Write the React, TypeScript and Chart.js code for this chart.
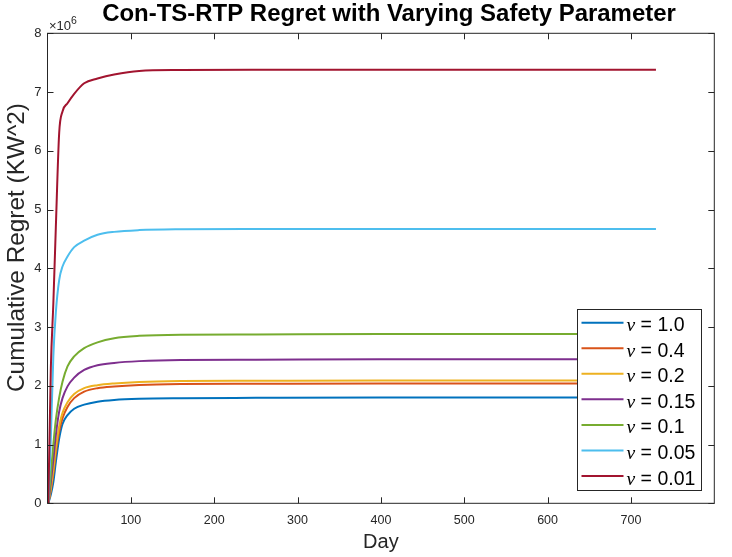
import React, { useEffect, useRef } from "react";
import { Chart, registerables } from "chart.js";
import type { Plugin } from "chart.js";

Chart.register(...registerables);

const DAYS = [1, 4, 7, 10, 14, 18, 24, 32, 44, 60, 80, 110, 160, 250, 400, 550, 730];

// cumulative regret, in units of 1e6 KW^2
const REGRET_NU_1_0 = [0, 0.15, 0.36, 0.7, 1.1, 1.35, 1.5, 1.61, 1.68, 1.73, 1.76, 1.78, 1.79, 1.795, 1.8, 1.8, 1.8];
const REGRET_NU_0_4 = [0, 0.22, 0.5, 0.85, 1.22, 1.45, 1.64, 1.79, 1.9, 1.96, 1.99, 2.015, 2.03, 2.035, 2.04, 2.04, 2.04];
const REGRET_NU_0_2 = [0, 0.25, 0.56, 0.93, 1.31, 1.54, 1.72, 1.86, 1.96, 2.01, 2.04, 2.065, 2.08, 2.085, 2.09, 2.09, 2.09];
const REGRET_NU_0_15 = [0, 0.36, 0.74, 1.16, 1.56, 1.79, 1.99, 2.14, 2.27, 2.35, 2.39, 2.42, 2.44, 2.445, 2.45, 2.45, 2.45];
const REGRET_NU_0_1 = [0, 0.5, 1.0, 1.42, 1.8, 2.07, 2.33, 2.5, 2.64, 2.74, 2.81, 2.85, 2.87, 2.875, 2.88, 2.88, 2.88];
const REGRET_NU_0_05 = [0, 1.1, 2.5, 3.25, 3.8, 4.03, 4.2, 4.36, 4.47, 4.57, 4.62, 4.65, 4.665, 4.67, 4.67, 4.67, 4.67];
const REGRET_NU_0_01 = [0, 2.3, 3.4, 4.7, 6.3, 6.67, 6.81, 6.97, 7.15, 7.23, 7.3, 7.36, 7.375, 7.38, 7.38, 7.38, 7.38];

const NU_LABELS = ["1.0", "0.4", "0.2", "0.15", "0.1", "0.05", "0.01"];
const SERIES = [REGRET_NU_1_0, REGRET_NU_0_4, REGRET_NU_0_2, REGRET_NU_0_15, REGRET_NU_0_1, REGRET_NU_0_05, REGRET_NU_0_01];
const COLORS = ["#0072BD", "#D95319", "#EDB120", "#7E2F8E", "#77AC30", "#4DBEEE", "#A2142F"];

const X_TICKS = [100, 200, 300, 400, 500, 600, 700];
const Y_TICKS = [0, 1, 2, 3, 4, 5, 6, 7, 8];

const TITLE = "Con-TS-RTP Regret with Varying Safety Parameter";
const X_LABEL = "Day";
const Y_LABEL = "Cumulative Regret (KW^2)";

const SANS = '"Liberation Sans", Arial, sans-serif';
const SERIF = '"Liberation Serif", "DejaVu Serif", serif';
const INK = "#262626";

// font size that makes text span a given width
const fitSize = (ctx: CanvasRenderingContext2D, text: string, weight: string, width: number) => {
  ctx.font = `${weight} 20px ${SANS}`;
  return (20 * width) / ctx.measureText(text).width;
};

const decorations: Plugin<"line"> = {
  id: "matlabDecorations",
  afterDraw: (chart) => {
    const ctx = chart.ctx;
    const { left, right, top, bottom } = chart.chartArea;
    const xs = chart.scales.x;
    const ys = chart.scales.y;
    ctx.save();

    // axes box and inward ticks
    ctx.strokeStyle = INK;
    ctx.lineWidth = 1;
    ctx.strokeRect(left, top, right - left, bottom - top);
    const tl = 6;
    ctx.beginPath();
    X_TICKS.forEach((v) => {
      const px = Math.round(xs.getPixelForValue(v)) + 0.5;
      ctx.moveTo(px, bottom);
      ctx.lineTo(px, bottom - tl);
      ctx.moveTo(px, top);
      ctx.lineTo(px, top + tl);
    });
    Y_TICKS.forEach((v) => {
      const py = Math.round(ys.getPixelForValue(v)) + 0.5;
      ctx.moveTo(left, py);
      ctx.lineTo(left + tl, py);
      ctx.moveTo(right, py);
      ctx.lineTo(right - tl, py);
    });
    ctx.stroke();

    // exponent
    ctx.fillStyle = INK;
    ctx.textAlign = "left";
    ctx.textBaseline = "alphabetic";
    ctx.font = `13px ${SANS}`;
    ctx.fillText("\u00d710", left + 1.5, top - 3);
    const w = ctx.measureText("\u00d710").width;
    ctx.font = `10.5px ${SANS}`;
    ctx.fillText("6", left + 1.5 + w, top - 9.5);

    // title
    ctx.fillStyle = "#000";
    ctx.textAlign = "center";
    const ts = fitSize(ctx, TITLE, "bold", 574);
    ctx.font = `bold ${ts}px ${SANS}`;
    ctx.fillText(TITLE, 389, 21);

    // x label
    ctx.fillStyle = INK;
    ctx.font = `20px ${SANS}`;
    ctx.fillText(X_LABEL, (left + right) / 2, 548);

    // y label
    const ls = fitSize(ctx, Y_LABEL, "normal", 289);
    ctx.save();
    ctx.translate(23.5, 247.5);
    ctx.rotate(-Math.PI / 2);
    ctx.font = `${ls}px ${SANS}`;
    ctx.fillText(Y_LABEL, 0, 0);
    ctx.restore();

    // legend
    const bx = 577.5;
    const by = 309.5;
    const bw = 124;
    const bh = 181;
    ctx.fillStyle = "#fff";
    ctx.fillRect(bx, by, bw, bh);
    ctx.strokeStyle = INK;
    ctx.strokeRect(bx, by, bw, bh);
    chart.data.datasets.forEach((ds, i) => {
      const ry = 322.7 + i * 25.55;
      ctx.strokeStyle = ds.borderColor as string;
      ctx.lineWidth = 2;
      ctx.beginPath();
      ctx.moveTo(581.5, ry);
      ctx.lineTo(623.5, ry);
      ctx.stroke();
      ctx.fillStyle = "#000";
      ctx.textAlign = "left";
      ctx.font = `italic 19.5px ${SERIF}`;
      ctx.fillText("\u03bd", 626.5, ry + 8.5);
      const nw = ctx.measureText("\u03bd").width;
      ctx.font = `19.5px ${SANS}`;
      ctx.fillText(` = ${NU_LABELS[i]}`, 626.5 + nw, ry + 8.5);
    });

    ctx.restore();
  },
};

const RegretChart: React.FC = () => {
  const canvasRef = useRef<HTMLCanvasElement | null>(null);
  const chartRef = useRef<Chart | null>(null);

  useEffect(() => {
    const canvas = canvasRef.current;
    if (!canvas) return;
    const ctx = canvas.getContext("2d");
    if (!ctx) return;

    if (chartRef.current) {
      chartRef.current.destroy();
      chartRef.current = null;
    }

    chartRef.current = new Chart(ctx, {
      type: "line",
      data: {
        datasets: SERIES.map((vals, i) => ({
          label: `\u03bd = ${NU_LABELS[i]}`,
          data: DAYS.map((d, j) => ({ x: d, y: vals[j] })),
          borderColor: COLORS[i],
          backgroundColor: COLORS[i],
          borderWidth: 2,
          pointRadius: 0,
          cubicInterpolationMode: "monotone" as const,
          order: SERIES.length - i, // later series on top, like MATLAB
        })),
      },
      options: {
        responsive: false,
        animation: false,
        layout: { padding: { top: 33.3, right: 17.7, left: 0, bottom: 0 } },
        plugins: { legend: { display: false }, title: { display: false }, tooltip: { enabled: false } },
        scales: {
          x: {
            type: "linear",
            min: 0,
            max: 800,
            grid: { display: false, drawTicks: false },
            border: { display: false },
            ticks: {
              stepSize: 100,
              autoSkip: false,
              maxRotation: 0,
              padding: 10,
              color: INK,
              font: { family: SANS, size: 12.5 },
              callback: (v) => (X_TICKS.includes(Number(v)) ? String(v) : ""),
            },
            afterFit: (s) => {
              s.height = 53.7;
            },
          },
          y: {
            min: 0,
            max: 8,
            grid: { display: false, drawTicks: false },
            border: { display: false },
            ticks: {
              stepSize: 1,
              autoSkip: false,
              padding: 6,
              color: INK,
              font: { family: SANS, size: 13 },
              callback: (v) => (Y_TICKS.includes(Number(v)) ? String(v) : ""),
            },
            afterFit: (s) => {
              s.width = 47.5;
            },
          },
        },
      },
      plugins: [decorations],
    });

    return () => {
      if (chartRef.current) {
        chartRef.current.destroy();
        chartRef.current = null;
      }
    };
  }, []);

  return <canvas ref={canvasRef} width={732} height={557} style={{ display: "block" }} />;
};

export default function App() {
  return (
    <div style={{ position: "fixed", left: 0, top: 0, width: 732, height: 557, background: "#fff" }}>
      <RegretChart />
    </div>
  );
}
